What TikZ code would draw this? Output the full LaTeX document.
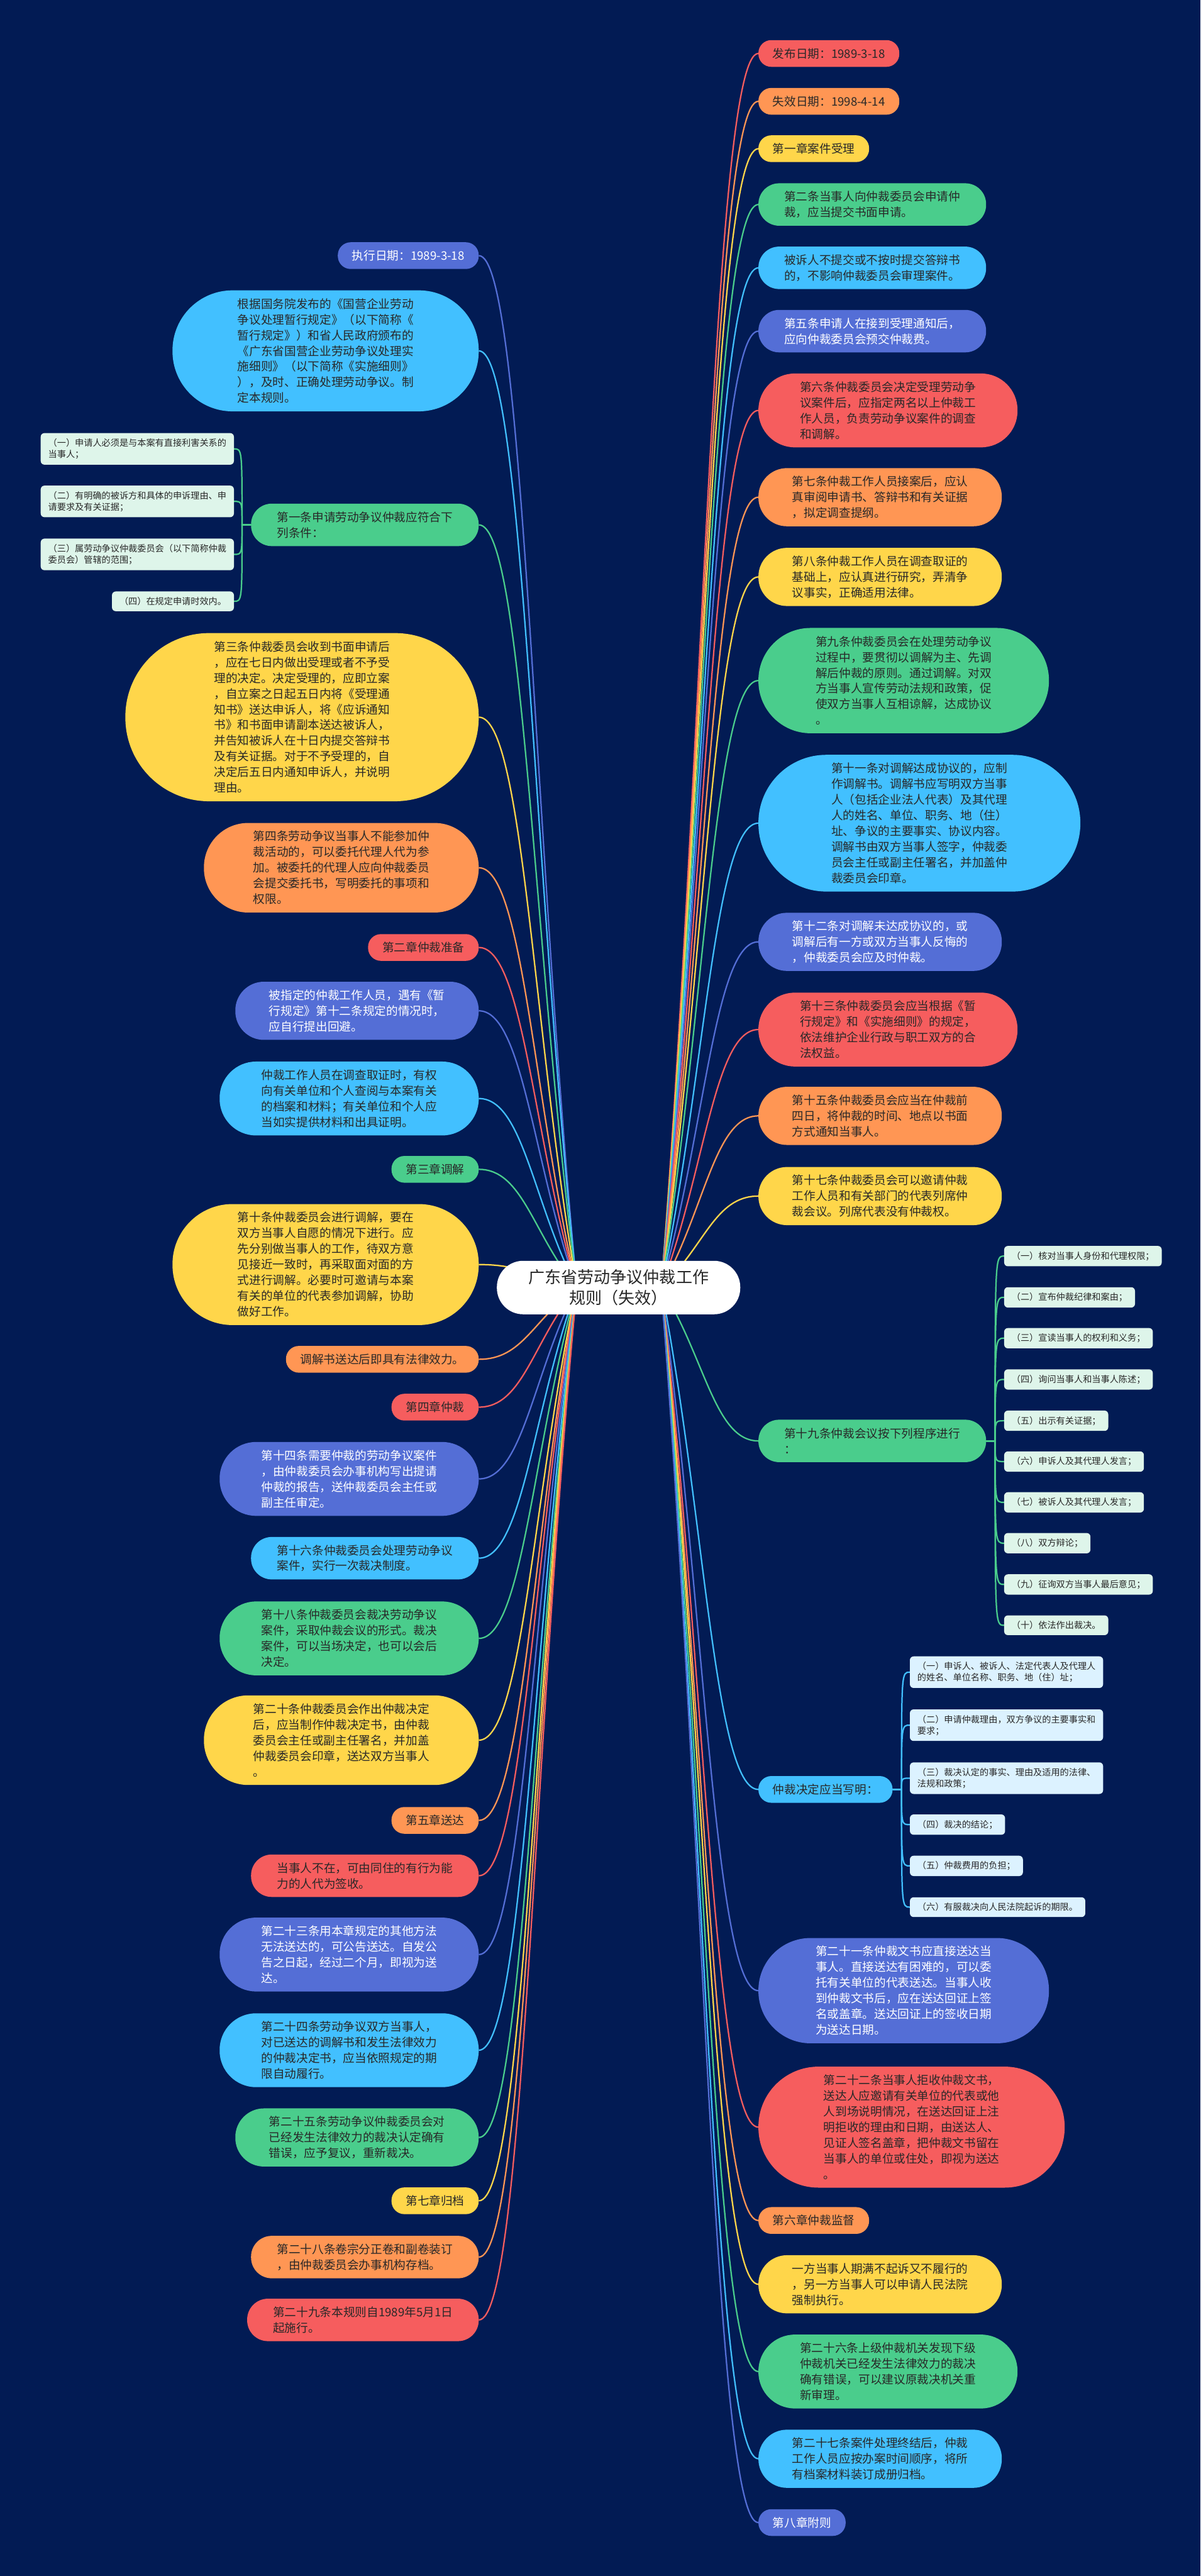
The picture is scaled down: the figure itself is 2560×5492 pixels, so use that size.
\documentclass[tikz,border=0pt]{standalone}
\usepackage{fontspec}
\setmainfont{Noto Sans CJK SC}
\usetikzlibrary{calc}
\definecolor{Cbg}{RGB}{2,27,84}
\definecolor{Cred}{RGB}{246,93,94}
\definecolor{Cora}{RGB}{255,150,84}
\definecolor{Cyel}{RGB}{255,214,74}
\definecolor{Cgrn}{RGB}{74,205,140}
\definecolor{Cblu}{RGB}{66,192,255}
\definecolor{Cind}{RGB}{84,110,214}
\definecolor{Ctxt}{RGB}{40,40,40}
\definecolor{SubG}{RGB}{222,245,234}
\definecolor{SubB}{RGB}{220,242,255}
\pgfdeclarelayer{bg}
\pgfsetlayers{bg,main}
\tikzset{
  mn/.style={rectangle, inner ysep=14pt, align=left,
    font=\fontsize{25}{33.5}\selectfont, text=Ctxt},
  stad/.style={minimum height={33.5pt*(#1-1)+57pt},
    inner xsep={10pt+(33.5pt*(#1-1)+57pt)/2-8pt*(#1==1)},
    rounded corners={(33.5pt*(#1-1)+57pt)/2-1pt}},
  cR/.style={fill=Cred}, cO/.style={fill=Cora}, cY/.style={fill=Cyel},
  cG/.style={fill=Cgrn}, cB/.style={fill=Cblu}, cI/.style={fill=Cind, text=white},
  subn/.style={rectangle, rounded corners=8pt, inner xsep=16pt, inner ysep=12pt,
    align=left, font=\fontsize{19}{24}\selectfont, text=Ctxt},
  conn/.style={line width=3pt},
  sconn/.style={line width=3pt},
}
\newcommand\RN[5]{\node[mn,#3,stad=#4,anchor=west] (#1) at (1617,-#2) {#5};}
\newcommand\LN[5]{\node[mn,#3,stad=#4,anchor=east] (#1) at (1021,-#2) {#5};}
\newcommand\connR[2]{\draw[conn,draw=#2] let \p1=(rootR), \p2=(#1.west) in
  (\p1) .. controls ({\x1+0.45*(\x2-\x1)},{\y1+0.45*(\y2-\y1)}) and ({\x1+0.55*(\x2-\x1)},{\y2}) .. (\p2);}
\newcommand\connL[2]{\draw[conn,draw=#2] let \p1=(rootL), \p2=(#1.east) in
  (\p1) .. controls ({\x1+0.45*(\x2-\x1)},{\y1+0.45*(\y2-\y1)}) and ({\x1+0.55*(\x2-\x1)},{\y2}) .. (\p2);}
\newcommand\subR[3]{\draw[sconn,draw=#3] let \p1=(#1.east), \p2=(#2.west) in
  (\p1) -- ({\x1+19pt},{\y1}) .. controls ({\x1+19pt},{\y2}) .. (\p2);}
\newcommand\subL[3]{\draw[sconn,draw=#3] let \p1=(#1.west), \p2=(#2.east) in
  (\p1) -- ({\x1-19pt},{\y1}) .. controls ({\x1-19pt},{\y2}) .. (\p2);}
\begin{document}
\begin{tikzpicture}[x=1pt,y=1pt]
\useasboundingbox (0,0) rectangle (2560,-5492);
\begin{pgfonlayer}{bg}
\fill[Cbg] (0,0) rectangle (2560,-5492);
\end{pgfonlayer}
\coordinate (rootR) at (1410,-2745);
\coordinate (rootL) at (1230,-2745);
\node[rectangle, fill=white, text=Ctxt, font=\fontsize{35}{44}\selectfont,
  align=center, minimum height=114pt, inner xsep=67pt, inner ysep=14pt,
  rounded corners=56pt] (root) at (1319,-2745)
  {广东省劳动争议仲裁工作\\规则（失效）};
% right side
\RN{r1}{114}{cR}{1}{发布日期：1989-3-18}
\RN{r2}{216}{cO}{1}{失效日期：1998-4-14}
\RN{r3}{317}{cY}{1}{第一章案件受理}
\RN{r4}{436}{cG}{2}{第二条当事人向仲裁委员会申请仲\\裁，应当提交书面申请。}
\RN{r5}{571}{cB}{2}{被诉人不提交或不按时提交答辩书\\的，不影响仲裁委员会审理案件。}
\RN{r6}{706}{cI}{2}{第五条申请人在接到受理通知后，\\应向仲裁委员会预交仲裁费。}
\RN{r7}{875}{cR}{4}{第六条仲裁委员会决定受理劳动争\\议案件后，应指定两名以上仲裁工\\作人员，负责劳动争议案件的调查\\和调解。}
\RN{r8}{1060}{cO}{3}{第七条仲裁工作人员接案后，应认\\真审阅申请书、答辩书和有关证据\\，拟定调查提纲。}
\RN{r9}{1230}{cY}{3}{第八条仲裁工作人员在调查取证的\\基础上，应认真进行研究，弄清争\\议事实，正确适用法律。}
\RN{r10}{1451}{cG}{6}{第九条仲裁委员会在处理劳动争议\\过程中，要贯彻以调解为主、先调\\解后仲裁的原则。通过调解。对双\\方当事人宣传劳动法规和政策，促\\使双方当事人互相谅解，达成协议\\。}
\RN{r11}{1755}{cB}{8}{第十一条对调解达成协议的，应制\\作调解书。调解书应写明双方当事\\人（包括企业法人代表）及其代理\\人的姓名、单位、职务、地（住）\\址、争议的主要事实、协议内容。\\调解书由双方当事人签字，仲裁委\\员会主任或副主任署名，并加盖仲\\裁委员会印章。}
\RN{r12}{2008}{cI}{3}{第十二条对调解未达成协议的，或\\调解后有一方或双方当事人反悔的\\，仲裁委员会应及时仲裁。}
\RN{r13}{2195}{cR}{4}{第十三条仲裁委员会应当根据《暂\\行规定》和《实施细则》的规定，\\依法维护企业行政与职工双方的合\\法权益。}
\RN{r14}{2379}{cO}{3}{第十五条仲裁委员会应当在仲裁前\\四日，将仲裁的时间、地点以书面\\方式通知当事人。}
\RN{r15}{2550}{cY}{3}{第十七条仲裁委员会可以邀请仲裁\\工作人员和有关部门的代表列席仲\\裁会议。列席代表没有仲裁权。}
\RN{r16}{3072}{cG}{2}{第十九条仲裁会议按下列程序进行\\：}
\RN{r17}{3815}{cB}{1}{仲裁决定应当写明：}
\RN{r18}{4244}{cI}{6}{第二十一条仲裁文书应直接送达当\\事人。直接送达有困难的，可以委\\托有关单位的代表送达。当事人收\\到仲裁文书后，应在送达回证上签\\名或盖章。送达回证上的签收日期\\为送达日期。}
\RN{r19}{4535}{cR}{7}{第二十二条当事人拒收仲裁文书，\\送达人应邀请有关单位的代表或他\\人到场说明情况，在送达回证上注\\明拒收的理由和日期，由送达人、\\见证人签名盖章，把仲裁文书留在\\当事人的单位或住处，即视为送达\\。}
\RN{r20}{4734}{cO}{1}{第六章仲裁监督}
\RN{r21}{4870}{cY}{3}{一方当事人期满不起诉又不履行的\\，另一方当事人可以申请人民法院\\强制执行。}
\RN{r22}{5056}{cG}{4}{第二十六条上级仲裁机关发现下级\\仲裁机关已经发生法律效力的裁决\\确有错误，可以建议原裁决机关重\\新审理。}
\RN{r23}{5242}{cB}{3}{第二十七条案件处理终结后，仲裁\\工作人员应按办案时间顺序，将所\\有档案材料装订成册归档。}
\RN{r24}{5378}{cI}{1}{第八章附则}
% subs of r16
\foreach \k/\yy/\t in {a/2678/（一）核对当事人身份和代理权限；,
  b/2766/（二）宣布仲裁纪律和案由；,
  c/2853/（三）宣读当事人的权利和义务；,
  d/2941/（四）询问当事人和当事人陈述；,
  e/3029/（五）出示有关证据；,
  f/3116/（六）申诉人及其代理人发言；,
  g/3203/（七）被诉人及其代理人发言；,
  h/3290/（八）双方辩论；,
  i/3378/（九）征询双方当事人最后意见；,
  j/3465/（十）依法作出裁决。}
  {\node[subn,fill=SubG,anchor=west] (s19\k) at (2141,-\yy) {\t};}
% subs of r17
\node[subn,fill=SubB,anchor=west] (sda) at (1940,-3565) {（一）申诉人、被诉人、法定代表人及代理人\\的姓名、单位名称、职务、地（住）址；};
\node[subn,fill=SubB,anchor=west] (sdb) at (1940,-3678) {（二）申请仲裁理由，双方争议的主要事实和\\要求；};
\node[subn,fill=SubB,anchor=west] (sdc) at (1940,-3791) {（三）裁决认定的事实、理由及适用的法律、\\法规和政策；};
\node[subn,fill=SubB,anchor=west] (sdd) at (1940,-3890) {（四）裁决的结论；};
\node[subn,fill=SubB,anchor=west] (sde) at (1940,-3978) {（五）仲裁费用的负担；};
\node[subn,fill=SubB,anchor=west] (sdf) at (1940,-4066) {（六）有服裁决向人民法院起诉的期限。};
% left side
\LN{l1}{545}{cI}{1}{执行日期：1989-3-18}
\LN{l2}{748}{cB}{7}{根据国务院发布的《国营企业劳动\\争议处理暂行规定》（以下简称《\\暂行规定》）和省人民政府颁布的\\《广东省国营企业劳动争议处理实\\施细则》（以下简称《实施细则》\\），及时、正确处理劳动争议。制\\定本规则。}
\LN{l3}{1119}{cG}{2}{第一条申请劳动争议仲裁应符合下\\列条件：}
\LN{l4}{1529}{cY}{10}{第三条仲裁委员会收到书面申请后\\，应在七日内做出受理或者不予受\\理的决定。决定受理的，应即立案\\，自立案之日起五日内将《受理通\\知书》送达申诉人，将《应诉通知\\书》和书面申请副本送达被诉人，\\并告知被诉人在十日内提交答辩书\\及有关证据。对于不予受理的，自\\决定后五日内通知申诉人，并说明\\理由。}
\LN{l5}{1850}{cO}{5}{第四条劳动争议当事人不能参加仲\\裁活动的，可以委托代理人代为参\\加。被委托的代理人应向仲裁委员\\会提交委托书，写明委托的事项和\\权限。}
\LN{l6}{2020}{cR}{1}{第二章仲裁准备}
\LN{l7}{2155}{cI}{3}{被指定的仲裁工作人员，遇有《暂\\行规定》第十二条规定的情况时，\\应自行提出回避。}
\LN{l8}{2342}{cB}{4}{仲裁工作人员在调查取证时，有权\\向有关单位和个人查阅与本案有关\\的档案和材料；有关单位和个人应\\当如实提供材料和出具证明。}
\LN{l9}{2493}{cG}{1}{第三章调解}
\LN{l10}{2696}{cY}{7}{第十条仲裁委员会进行调解，要在\\双方当事人自愿的情况下进行。应\\先分别做当事人的工作，待双方意\\见接近一致时，再采取面对面的方\\式进行调解。必要时可邀请与本案\\有关的单位的代表参加调解，协助\\做好工作。}
\LN{l11}{2898}{cO}{1}{调解书送达后即具有法律效力。}
\LN{l12}{3000}{cR}{1}{第四章仲裁}
\LN{l13}{3153}{cI}{4}{第十四条需要仲裁的劳动争议案件\\，由仲裁委员会办事机构写出提请\\仲裁的报告，送仲裁委员会主任或\\副主任审定。}
\LN{l14}{3322}{cB}{2}{第十六条仲裁委员会处理劳动争议\\案件，实行一次裁决制度。}
\LN{l15}{3493}{cG}{4}{第十八条仲裁委员会裁决劳动争议\\案件，采取仲裁会议的形式。裁决\\案件，可以当场决定，也可以会后\\决定。}
\LN{l16}{3710}{cY}{5}{第二十条仲裁委员会作出仲裁决定\\后，应当制作仲裁决定书，由仲裁\\委员会主任或副主任署名，并加盖\\仲裁委员会印章，送达双方当事人\\。}
\LN{l17}{3881}{cO}{1}{第五章送达}
\LN{l18}{3999}{cR}{2}{当事人不在，可由同住的有行为能\\力的人代为签收。}
\LN{l19}{4167}{cI}{4}{第二十三条用本章规定的其他方法\\无法送达的，可公告送达。自发公\\告之日起，经过二个月，即视为送\\达。}
\LN{l20}{4371}{cB}{4}{第二十四条劳动争议双方当事人，\\对已送达的调解书和发生法律效力\\的仲裁决定书，应当依照规定的期\\限自动履行。}
\LN{l21}{4557}{cG}{3}{第二十五条劳动争议仲裁委员会对\\已经发生法律效力的裁决认定确有\\错误，应予复议，重新裁决。}
\LN{l22}{4692}{cY}{1}{第七章归档}
\LN{l23}{4812}{cO}{2}{第二十八条卷宗分正卷和副卷装订\\，由仲裁委员会办事机构存档。}
\LN{l24}{4946}{cR}{2}{第二十九条本规则自1989年5月1日\\起施行。}
% subs of l3
\node[subn,fill=SubG,anchor=east] (s1a) at (499,-957) {（一）申请人必须是与本案有直接利害关系的\\当事人；};
\node[subn,fill=SubG,anchor=east] (s1b) at (499,-1069) {（二）有明确的被诉方和具体的申诉理由、申\\请要求及有关证据；};
\node[subn,fill=SubG,anchor=east] (s1c) at (499,-1182) {（三）属劳动争议仲裁委员会（以下简称仲裁\\委员会）管辖的范围；};
\node[subn,fill=SubG,anchor=east] (s1d) at (499,-1282) {（四）在规定申请时效内。};
% connectors
\begin{pgfonlayer}{bg}
\connR{r1}{Cred}\connR{r2}{Cora}\connR{r3}{Cyel}\connR{r4}{Cgrn}
\connR{r5}{Cblu}\connR{r6}{Cind}\connR{r7}{Cred}\connR{r8}{Cora}
\connR{r9}{Cyel}\connR{r10}{Cgrn}\connR{r11}{Cblu}\connR{r12}{Cind}
\connR{r13}{Cred}\connR{r14}{Cora}\connR{r15}{Cyel}\connR{r16}{Cgrn}
\connR{r17}{Cblu}\connR{r18}{Cind}\connR{r19}{Cred}\connR{r20}{Cora}
\connR{r21}{Cyel}\connR{r22}{Cgrn}\connR{r23}{Cblu}\connR{r24}{Cind}
\connL{l1}{Cind}\connL{l2}{Cblu}\connL{l3}{Cgrn}\connL{l4}{Cyel}
\connL{l5}{Cora}\connL{l6}{Cred}\connL{l7}{Cind}\connL{l8}{Cblu}
\connL{l9}{Cgrn}\connL{l10}{Cyel}\connL{l11}{Cora}\connL{l12}{Cred}
\connL{l13}{Cind}\connL{l14}{Cblu}\connL{l15}{Cgrn}\connL{l16}{Cyel}
\connL{l17}{Cora}\connL{l18}{Cred}\connL{l19}{Cind}\connL{l20}{Cblu}
\connL{l21}{Cgrn}\connL{l22}{Cyel}\connL{l23}{Cora}\connL{l24}{Cred}
\subR{r16}{s19a}{Cgrn}\subR{r16}{s19b}{Cgrn}\subR{r16}{s19c}{Cgrn}
\subR{r16}{s19d}{Cgrn}\subR{r16}{s19e}{Cgrn}\subR{r16}{s19f}{Cgrn}
\subR{r16}{s19g}{Cgrn}\subR{r16}{s19h}{Cgrn}\subR{r16}{s19i}{Cgrn}
\subR{r16}{s19j}{Cgrn}
\subR{r17}{sda}{Cblu}\subR{r17}{sdb}{Cblu}\subR{r17}{sdc}{Cblu}
\subR{r17}{sdd}{Cblu}\subR{r17}{sde}{Cblu}\subR{r17}{sdf}{Cblu}
\subL{l3}{s1a}{Cgrn}\subL{l3}{s1b}{Cgrn}\subL{l3}{s1c}{Cgrn}\subL{l3}{s1d}{Cgrn}
\end{pgfonlayer}
\end{tikzpicture}
\end{document}
